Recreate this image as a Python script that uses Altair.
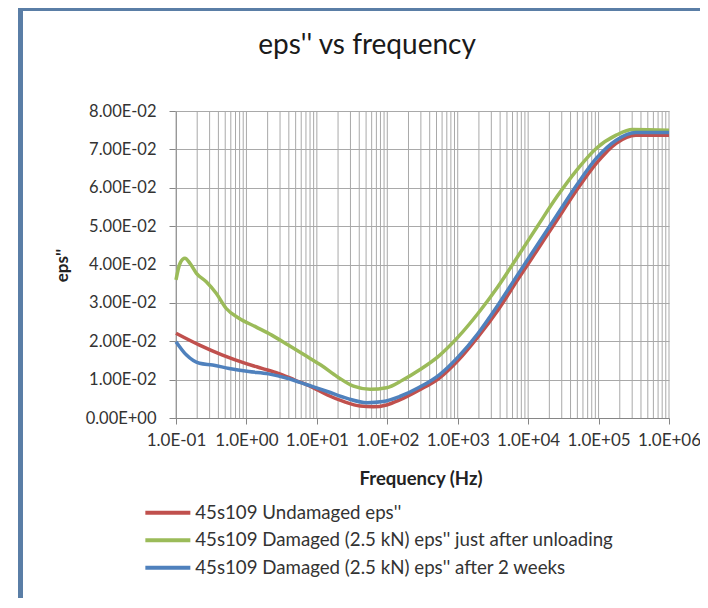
import json
import altair as alt
import pandas as pd

title_text = "eps'' vs frequency"
series_names = [
    "45s109 Undamaged eps''",
    "45s109 Damaged (2.5 kN) eps'' just after unloading",
    "45s109 Damaged (2.5 kN) eps'' after 2 weeks",
]
series_colors = ["#C0504D", "#9BBB59", "#4F81BD"]

red_freq = [0.1, 0.216, 0.458, 0.97, 1.66, 2.84, 4.85, 8.28, 14.1, 24.3, 41.4, 63.1, 97.7,
            150, 285, 543, 1023, 1950, 3715, 7080, 13490, 25700, 49000, 93300, 177800,
            338800, 1000000]
red_eps = [0.0221, 0.0190, 0.0164, 0.01425, 0.01294, 0.01164, 0.0099, 0.00816, 0.0060,
           0.00425, 0.0031, 0.0029, 0.0034, 0.0047, 0.0073, 0.01034, 0.0151, 0.0212,
           0.0281, 0.0360, 0.0438, 0.0516, 0.0594, 0.0664, 0.0716, 0.0737, 0.0737]

green_freq = [0.1, 0.114, 0.134, 0.158, 0.195, 0.269, 0.372, 0.513, 0.783, 1.34, 2.29, 3.92,
              6.70, 11.4, 19.5, 33.1, 57.1, 97.7, 166, 285, 543, 1023, 1950, 3715, 7080,
              13490, 25700, 49000, 93300, 177800, 302000, 1000000]
green_eps = [0.0360, 0.0403, 0.0416, 0.0403, 0.0377, 0.0355, 0.0325, 0.0286, 0.0260, 0.0238,
             0.0216, 0.0190, 0.0164, 0.0138, 0.01077, 0.0083, 0.0075, 0.0079, 0.0099, 0.0125,
             0.0162, 0.0212, 0.0273, 0.0342, 0.0420, 0.0499, 0.0577, 0.0646, 0.0703, 0.0737,
             0.0752, 0.0750]

blue_freq = [0.1, 0.141, 0.216, 0.331, 0.569, 1.08, 2.06, 3.92, 7.45, 14.1, 26.9, 51.3, 87.1,
             150, 285, 543, 1023, 1950, 3715, 7080, 13490, 25700, 49000, 93300, 177800,
             338800, 1000000]
blue_eps = [0.0199, 0.0164, 0.01425, 0.0138, 0.0129, 0.0121, 0.0115, 0.0103, 0.0086, 0.0069,
            0.0051, 0.0040, 0.0043, 0.0056, 0.0080, 0.0112, 0.0160, 0.0221, 0.0294, 0.0373,
            0.0451, 0.0529, 0.0607, 0.0677, 0.0724, 0.0744, 0.0744]

x_tick_values = [0.1, 1, 10, 100, 1000, 10000, 100000, 1000000]
x_tick_labels = ["1.0E-01", "1.0E+00", "1.0E+01", "1.0E+02", "1.0E+03", "1.0E+04", "1.0E+05", "1.0E+06"]
y_tick_values = [0, 0.01, 0.02, 0.03, 0.04, 0.05, 0.06, 0.07, 0.08]
y_tick_labels = ["0.00E+00", "1.00E-02", "2.00E-02", "3.00E-02", "4.00E-02", "5.00E-02",
                 "6.00E-02", "7.00E-02", "8.00E-02"]
minor_grid_freq = [m * d for d in [0.1, 1, 10, 100, 1000, 10000, 100000]
                   for m in [1, 2, 3, 4, 5, 6, 7, 8, 9]] + [1000000]

rows = []
for name, fs, vs in zip(series_names, [red_freq, green_freq, blue_freq], [red_eps, green_eps, blue_eps]):
    for i, (f, v) in enumerate(zip(fs, vs)):
        rows.append({"series": name, "freq": f, "eps": v, "idx": i})
df = pd.DataFrame(rows)

FONT = "Lato"
TXT = "#333333"
AX = "#868686"
FRAME = "#5a7ea6"
W = 493

xscale = alt.Scale(type="log", domain=[0.1, 1000000], nice=False)
yscale = alt.Scale(domain=[0, 0.08], nice=False)

x_axis = alt.Axis(
    values=x_tick_values,
    labelExpr=f"{json.dumps(x_tick_labels)}[round(log(datum.value)/LN10)+1]",
    grid=False, tickSize=6, tickColor=AX, domainColor=AX,
    labelFont=FONT, labelFontSize=17, labelColor=TXT, labelOverlap=False, labelPadding=8,
    labelFlush=False, labelBound=False,
    title="Frequency (Hz)", titleFont=FONT, titleFontSize=18.5, titleFontWeight="bold",
    titleColor="#222222", titleY=60, titleBaseline="middle", titleX=W / 2 - 2,
)
y_axis = alt.Axis(
    values=y_tick_values,
    labelExpr=f"{json.dumps(y_tick_labels)}[round(datum.value*100)]",
    grid=True, gridColor="#a9a9a9", tickSize=7, tickColor=AX, domainColor=AX,
    labelFont=FONT, labelFontSize=16.5, labelColor=TXT, labelPadding=13,
    title="eps''", titleFont=FONT, titleFontSize=17, titleFontWeight="bold",
    titleColor="#222222", titleX=-114, titleY=154, titleAngle=270, titleBaseline="middle",
    titleAlign="center",
)

grid = alt.Chart(pd.DataFrame({"freq": minor_grid_freq})).mark_rule(
    color="#a9a9a9", strokeWidth=1
).encode(x=alt.X("freq:Q", scale=xscale, axis=x_axis))

lines = alt.Chart(df).mark_line(strokeWidth=3.5, interpolate="monotone").encode(
    x=alt.X("freq:Q", scale=xscale, axis=x_axis),
    y=alt.Y("eps:Q", scale=yscale, axis=y_axis),
    color=alt.Color(
        "series:N",
        scale=alt.Scale(domain=series_names, range=series_colors),
        legend=alt.Legend(
            title=None, orient="none", legendX=-17.5, legendY=392.5,
            symbolType="M-3.75,0H3.75", symbolSize=144, symbolStrokeWidth=4,
            labelOffset=18, labelFont=FONT, labelFontSize=18.7, labelColor=TXT,
            rowPadding=7.5, labelLimit=600,
        ),
    ),
    order="idx:Q",
)

one = pd.DataFrame({"k": [0]})
title_mark = alt.Chart(pd.DataFrame({"t": [title_text]})).mark_text(
    font=FONT, fontSize=28, color="#1a1a1a", align="center", baseline="alphabetic"
).encode(text="t:N", x=alt.value(191), y=alt.value(-57))
frame_left = alt.Chart(one).mark_rule(color=FRAME, strokeWidth=5).encode(
    x=alt.value(-155.5), y=alt.value(-103), y2=alt.value(489)
)
frame_top = alt.Chart(one).mark_rule(color=FRAME, strokeWidth=4).encode(
    x=alt.value(-158), x2=alt.value(540), y=alt.value(-102)
)

chart = alt.layer(grid, lines, title_mark, frame_left, frame_top).properties(
    width=W, height=307,
    autosize=alt.AutoSizeParams(type="none"),
    padding={"left": 168, "top": 103, "right": 700 - 8 - 168 - W, "bottom": 180},
    background="white",
).configure_view(strokeWidth=0)

chart.save("out.html", embed_options={"renderer": "svg", "actions": False})
